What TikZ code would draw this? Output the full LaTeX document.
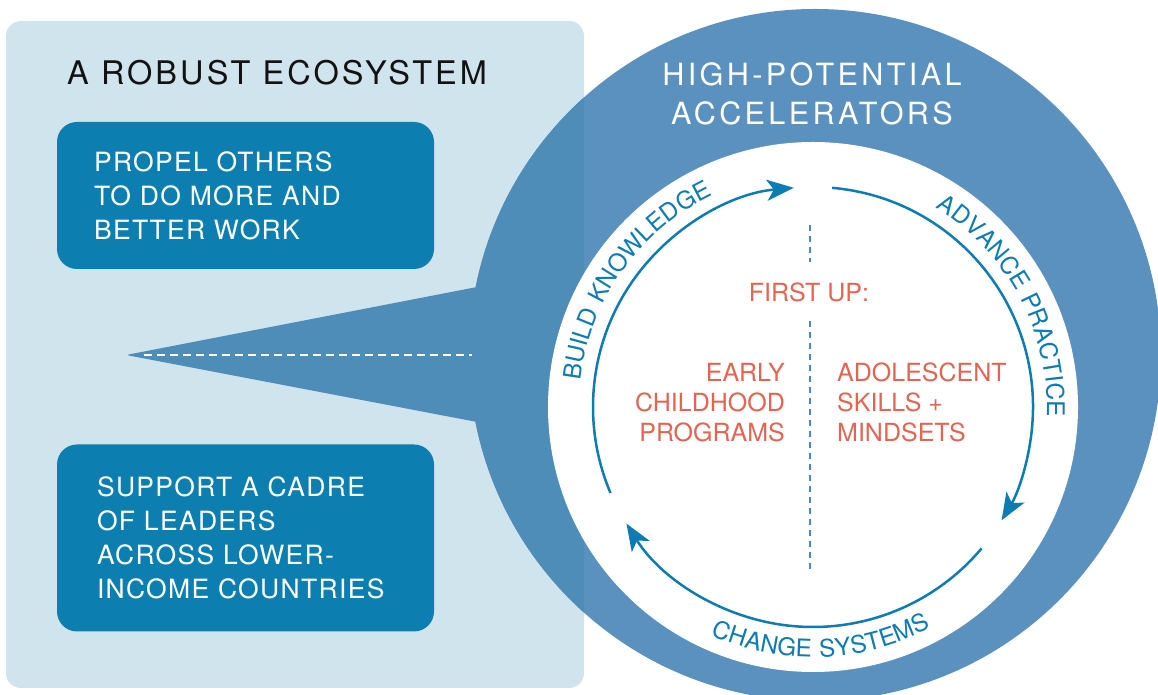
\documentclass[tikz,border=0pt]{standalone}
\usepackage{fontspec}
\setmainfont{TeX Gyre Heros}
\newfontfamily\titlefamily{TeX Gyre Heros}[LetterSpace=9.5]
\newfontfamily\ringfamily{TeX Gyre Heros}[LetterSpace=11]
\newfontfamily\goalfamily{TeX Gyre Heros}[LetterSpace=5]
\newfontfamily\arcfamily{TeX Gyre Heros}[LetterSpace=5.5]
\newcommand\arcfont{\arcfamily\fontsize{24.3}{28}\selectfont}
\usetikzlibrary{arrows.meta,decorations.text}
\definecolor{paleblue}{RGB}{208,228,238}
\definecolor{ringblue}{RGB}{91,145,190}
\definecolor{ringdark}{RGB}{79,141,185}
\definecolor{boxblue}{RGB}{13,126,176}
\definecolor{arrowblue}{RGB}{12,124,178}
\definecolor{salmon}{RGB}{226,101,82}
\definecolor{dashblue}{RGB}{64,142,192}
\begin{document}
\begin{tikzpicture}[x=1pt,y=1pt,
    goalbox/.style={fill=boxblue,rounded corners=20pt,text=white,align=left,
      minimum width=377pt,font=\goalfamily\fontsize{26.5}{34}\selectfont},
    redtext/.style={text=salmon,inner sep=0,font=\fontsize{25}{30}\selectfont},
    cyclearc/.style={arrowblue,line width=2.5pt,-{Stealth[length=27pt,width=21pt,inset=7pt]}},
    arclabel/.style={decorate,decoration={text along path,text align=center,
      text color=arrowblue,text={|\arcfont|#1}}}]
  \useasboundingbox (0,0) rectangle (1158,695);
  \clip (0,0) rectangle (1158,695);
  \fill[paleblue,rounded corners=15pt] (6,7) rectangle (584,674);
  \fill[ringblue] (815,340) circle (346);
  \begin{scope}
    \clip[rounded corners=15pt] (6,7) rectangle (584,674);
    \fill[ringdark] (815,340) circle (346);
  \end{scope}
  \fill[ringdark,rounded corners=3pt] (126,340) -- (477,408) -- (560,408) -- (560,273) -- (477,273) -- cycle;
  \fill[white] (813,288) circle (265);
  \coordinate (tip) at (144,340);
  \coordinate (mouth) at (472,340);
  \draw[white,line width=1.5pt,dash pattern=on 8pt off 5pt] (tip) -- (mouth);
  % the cycle
  \coordinate (hub) at (813,288);
  \draw[cyclearc] ([shift={(203:220)}]hub) arc[start angle=203,end angle=95,radius=220];
  \draw[cyclearc] ([shift={(85:220)}]hub) arc[start angle=85,end angle=-31,radius=220];
  \draw[cyclearc] ([shift={(-40:220)}]hub) arc[start angle=-40,end angle=-148,radius=220];
  \path[arclabel={BUILD KNOWLEDGE}] ([shift={(200:234)}]hub) arc[start angle=200,end angle=89,radius=234];
  \path[arclabel={ADVANCE PRACTICE}] ([shift={(83:234)}]hub) arc[start angle=83,end angle=-27,radius=234];
  \path[arclabel={CHANGE SYSTEMS}] ([shift={(-148:250)}]hub) arc[start angle=-148,end angle=-28,radius=250];
  % texts
  \node[anchor=base west,inner sep=0,text=black!93,font=\titlefamily\fontsize{32.5}{38}\selectfont] (eco) at (67,610) {A ROBUST ECOSYSTEM};
  \node[goalbox,minimum height=147pt,text width=303pt,inner xsep=37pt] (propel) at (245.5,499.5) {PROPEL OTHERS\\TO DO MORE AND\\BETTER WORK};
  \node[goalbox,minimum height=187pt,text width=297pt,inner xsep=40pt] (cadre) at (245.5,157) {SUPPORT A CADRE\\OF LEADERS\\ACROSS LOWER-\\INCOME COUNTRIES};
  \node[anchor=north,align=center,inner sep=0,text=white,font=\ringfamily\fontsize{30.6}{39}\selectfont] (hpa) at (812,633) {HIGH-POTENTIAL\\ACCELERATORS};
  \node[redtext,anchor=base] (first) at (809,393) {FIRST UP:};
  \node[redtext,anchor=north east,align=right] (early) at (785,332) {EARLY\\CHILDHOOD\\PROGRAMS};
  \node[redtext,anchor=north west,align=left] (teen) at (837,332) {ADOLESCENT\\SKILLS +\\MINDSETS};
  \coordinate (s1) at (810,470);
  \coordinate (s2) at (810,433);
  \coordinate (s3) at (810,374);
  \coordinate (s4) at (810,126);
  \draw[dashblue,line width=1.5pt,dash pattern=on 6pt off 5pt] (s1) -- (s2) (s3) -- (s4);
\end{tikzpicture}
\end{document}
